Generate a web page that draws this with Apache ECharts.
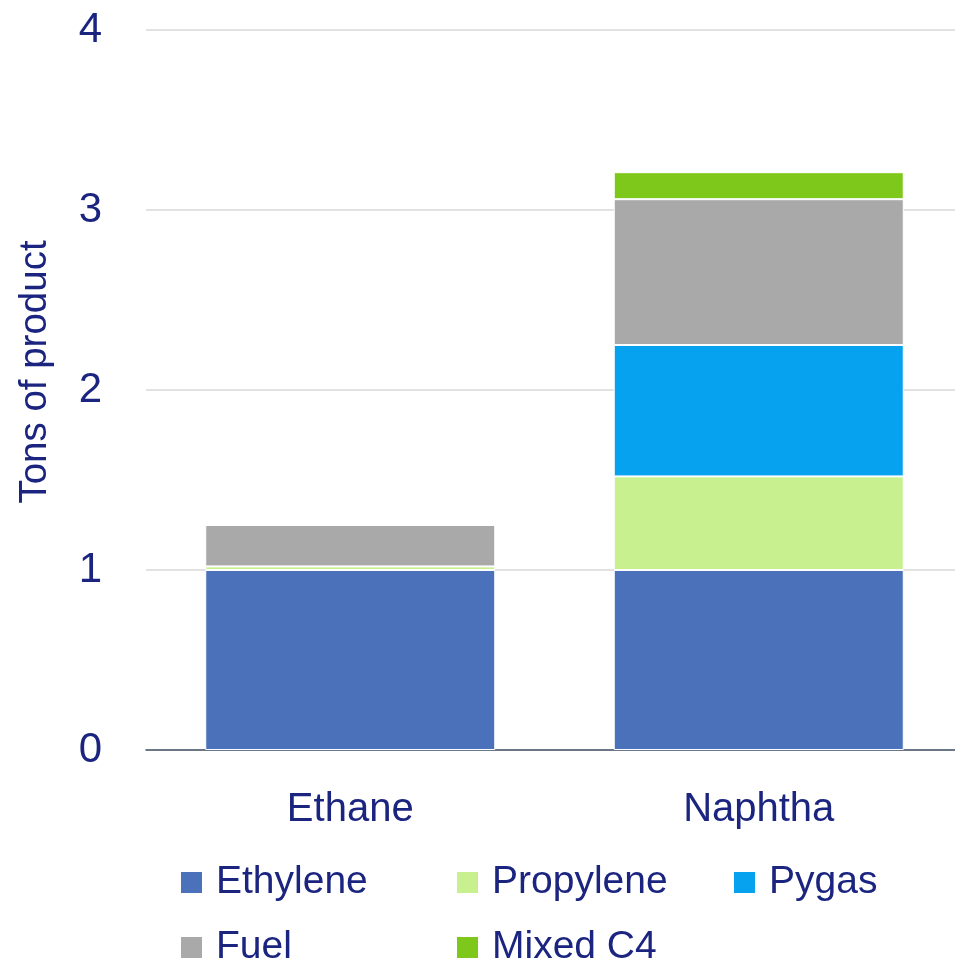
<!DOCTYPE html>
<html>
<head>
<meta charset="utf-8">
<script src="https://cdn.jsdelivr.net/npm/echarts@6/dist/echarts.min.js"></script>
<style>
html,body{margin:0;padding:0;background:#fff;}
#c{width:955px;height:966px;}
</style>
</head>
<body>
<div id="c"></div>
<script>
const categories = ['Ethane', 'Naphtha'];
const ethylene = [1.0, 1.0];
const propylene = [0.02, 0.52];
const pygas = [0, 0.73];
const fuel = [0.23, 0.81];
const mixedC4 = [0, 0.15];
const yTicks = [0, 1, 2, 3, 4];

const FONT = "'Liberation Sans Narrow', 'Arial Narrow', 'Liberation Sans', sans-serif";
const TXT = '#1b2580';

const seriesDefs = [
  {name: 'Ethylene', data: ethylene, color: '#4a71b9'},
  {name: 'Propylene', data: propylene, color: '#c8f08f'},
  {name: 'Pygas', data: pygas, color: '#06a1ef'},
  {name: 'Fuel', data: fuel, color: '#a9a9a9'},
  {name: 'Mixed C4', data: mixedC4, color: '#7ec81c'}
];

const legendPos = [
  {left: 174, top: 858},
  {left: 450, top: 858},
  {left: 727, top: 858},
  {left: 174, top: 923},
  {left: 450, top: 923}
];

const chart = echarts.init(document.getElementById('c'), null, {renderer: 'canvas'});
chart.setOption({
  backgroundColor: '#ffffff',
  animation: false,
  textStyle: {fontFamily: FONT},
  grid: {left: 146, top: 30, width: 817, height: 720, containLabel: false, outerBoundsMode: 'none'},
  legend: seriesDefs.map((s, i) => ({
    data: [s.name],
    left: legendPos[i].left,
    top: legendPos[i].top,
    padding: 5,
    itemWidth: 23,
    itemHeight: 23,
    itemGap: 0,
    icon: 'rect',
    textStyle: {color: TXT, fontSize: 39, fontFamily: FONT, padding: [0, 0, 0, 8]}
  })),
  xAxis: {
    type: 'category',
    data: categories,
    axisLine: {lineStyle: {color: '#44546a', width: 1.5}},
    axisTick: {show: false},
    axisLabel: {color: TXT, fontSize: 40, fontFamily: FONT, margin: 40}
  },
  yAxis: {
    type: 'value',
    min: 0,
    max: 4,
    interval: 1,
    name: 'Tons of product',
    nameLocation: 'middle',
    nameGap: 91,
    nameTextStyle: {color: TXT, fontSize: 38.5, fontFamily: FONT, padding: [0, 0, 0, 36]},
    axisLine: {show: false},
    axisTick: {show: false},
    splitLine: {lineStyle: {color: '#d9d9d9', width: 1.5}},
    axisLabel: {color: TXT, fontSize: 42, fontFamily: FONT, margin: 44,
      formatter: v => yTicks.includes(v) ? String(v) : ''}
  },
  series: seriesDefs.map(s => ({
    name: s.name,
    type: 'bar',
    stack: 'total',
    barWidth: 290,
    data: s.data,
    itemStyle: {color: s.color, borderColor: '#ffffff', borderWidth: 1}
  }))
});
</script>
</body>
</html>
